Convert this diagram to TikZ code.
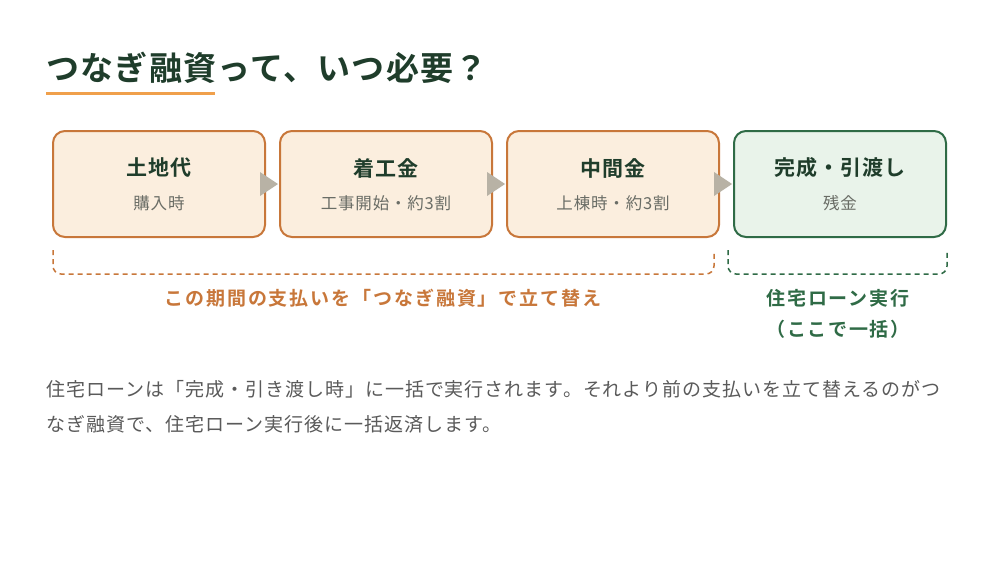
\documentclass[tikz,border=0pt]{standalone}
\usepackage{fontspec}
\setmainfont{Noto Sans CJK JP}
\newfontfamily\jpb{Noto Sans CJK JP Bold}
\newfontfamily\jpr{Noto Sans CJK JP}
\usetikzlibrary{calc}
\definecolor{dkgreen}{HTML}{1F3D2B}
\definecolor{uline}{HTML}{F0A04B}
\definecolor{ofill}{HTML}{FBEEDE}
\definecolor{ostroke}{HTML}{C8773A}
\definecolor{gfill}{HTML}{E9F3EA}
\definecolor{gstroke}{HTML}{2F6B46}
\definecolor{subgray}{HTML}{6A6D66}
\definecolor{arrowc}{HTML}{B8B2A5}
\definecolor{paragray}{HTML}{5A5A5A}
\tikzset{
  stagebox/.style={draw=ostroke, fill=ofill, line width=2pt, rounded corners=12pt, minimum width=212pt, minimum height=106pt, inner sep=0pt},
  finalbox/.style={stagebox, draw=gstroke, fill=gfill},
  stagetitle/.style={text=dkgreen, font={\jpb\fontsize{21}{24}\selectfont\addfontfeature{LetterSpace=5}}, inner sep=0pt},
  stagesub/.style={text=subgray, font={\jpr\fontsize{16.5}{20}\selectfont\addfontfeature{LetterSpace=5}}, inner sep=0pt},
  flowtri/.style={fill=arrowc},
  obracket/.style={draw=ostroke, line width=1.5pt, dash pattern=on 5pt off 4pt, rounded corners=8pt},
  gbracket/.style={obracket, draw=gstroke},
  olabel/.style={text=ostroke, font={\jpb\fontsize{19}{22}\selectfont\addfontfeature{LetterSpace=10}}, inner sep=0pt},
  glabel/.style={text=gstroke, font={\jpb\fontsize{19}{22}\selectfont\addfontfeature{LetterSpace=9}}, inner sep=0pt},
  paratext/.style={text=paragray, font={\jpr\fontsize{19}{22}\selectfont\addfontfeature{LetterSpace=5.2}}, inner sep=0pt, anchor=west},
}
\begin{document}
\begin{tikzpicture}[x=1pt,y=-1pt]
\useasboundingbox (0,0) rectangle (1000,560);
\fill[white] (0,0) rectangle (1000,560);
% title
\node[anchor=west, inner sep=0pt, text=dkgreen, font={\jpb\fontsize{33}{36}\selectfont\addfontfeature{LetterSpace=4}}] (title) at (46,68) {つなぎ融資って、いつ必要？};
\coordinate (ulA) at (46,93);
\coordinate (ulB) at (215,93);
\draw[uline, line width=3pt] (ulA) -- (ulB);
% boxes
\node[stagebox] (b1) at (159,184) {};
\node[stagebox] (b2) at (386,184) {};
\node[stagebox] (b3) at (613,184) {};
\node[finalbox] (b4) at (840,184) {};
\node[stagetitle] (t1) at (159,168) {土地代};
\node[stagesub] (s1) at (159,203) {購入時};
\node[stagetitle] (t2) at (386,168) {着工金};
\node[stagesub] (s2) at (386,203) {工事開始・約3割};
\node[stagetitle] (t3) at (613,168) {中間金};
\node[stagesub] (s3) at (613,203) {上棟時・約3割};
\node[stagetitle] (t4) at (840,168) {完成・引渡し};
\node[stagesub] (s4) at (840,203) {残金};
% flow triangles
\foreach \a/\b in {b1/b2,b2/b3,b3/b4}{
  \fill[flowtri] ($(\a.east)+(-6,-12)$) -- ($(\a.east)+(-6,12)$) -- ($(\b.west)+(-1,0)$) -- cycle;
}
% brackets
\coordinate (oA) at (53,250);
\coordinate (oB) at (53,274);
\coordinate (oC) at (714,274);
\coordinate (oD) at (714,250);
\draw[obracket] (oA) -- (oB) -- (oC) -- (oD);
\coordinate (gA) at (728,250);
\coordinate (gB) at (728,274);
\coordinate (gC) at (947,274);
\coordinate (gD) at (947,250);
\draw[gbracket] (gA) -- (gB) -- (gC) -- (gD);
\node[olabel] (ol) at (383,298) {この期間の支払いを「つなぎ融資」で立て替え};
\node[glabel] (gl1) at (838,298) {住宅ローン実行};
\node[glabel] (gl2) at (838,329) {（ここで一括）};
% paragraph
\node[paratext] (p1) at (46,389) {住宅ローンは「完成・引き渡し時」に一括で実行されます。それより前の支払いを立て替えるのがつ};
\node[paratext] (p2) at (46,424) {なぎ融資で、住宅ローン実行後に一括返済します。};
\end{tikzpicture}
\end{document}
